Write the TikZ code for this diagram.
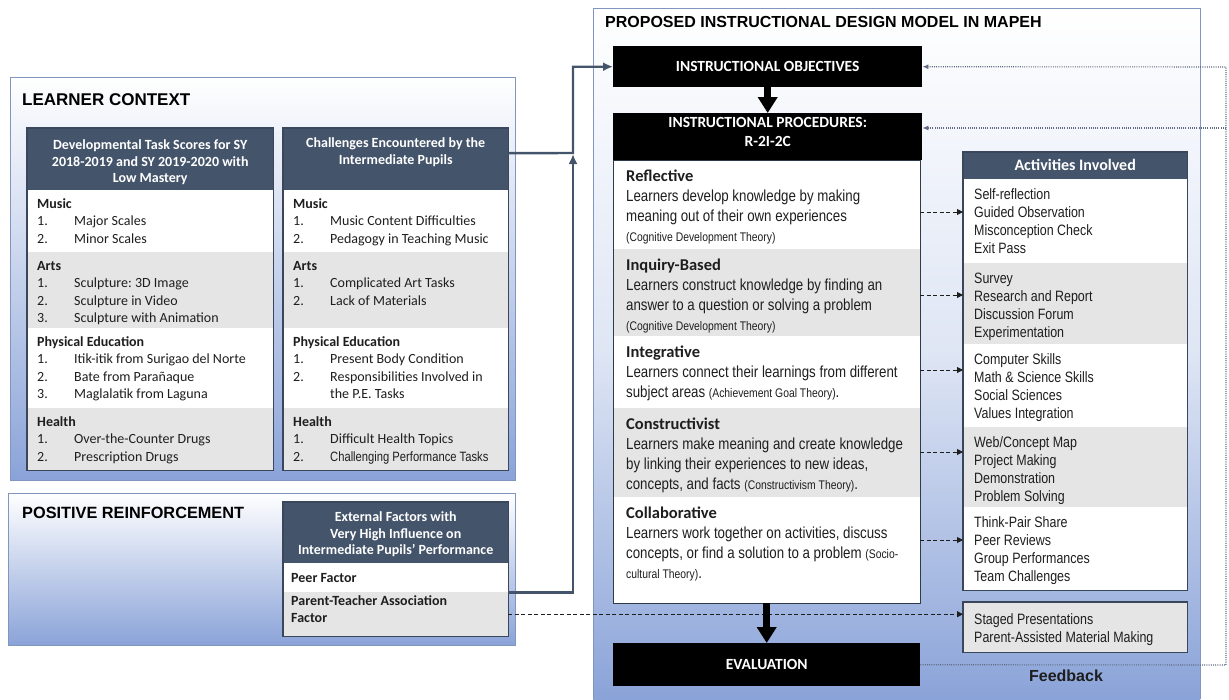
\documentclass[tikz,border=0pt]{standalone}
\usepackage{fontspec}
\setmainfont{Carlito}
\newfontfamily\arialfont{Liberation Sans}
\newfontfamily\narrowfont{Liberation Sans}[FakeStretch=0.83]
\usetikzlibrary{arrows.meta}
\definecolor{slate}{RGB}{68,84,106}
\definecolor{rowgrey}{RGB}{229,229,229}
\definecolor{panelblue}{RGB}{138,163,216}
\definecolor{panelline}{RGB}{128,150,190}
\definecolor{txt}{RGB}{30,30,30}
\definecolor{fbgrey}{RGB}{95,108,130}
\newcommand{\itm}[2]{\makebox[37pt][l]{#1}#2}
\newcommand{\rtitle}[1]{{\rmfamily\bfseries\fontsize{16.5}{20}\selectfont #1}}
\newcommand{\thy}[1]{{\fontsize{12.5}{20}\selectfont #1}}
% name, x, y, width, height, style, xsep, first line height, text
\newcommand{\tabcell}[9]{\node[#6, inner xsep=#7pt] (#1) at (#2,#3) {\parbox[c][#5pt][t]{\dimexpr#4pt-#7pt-#7pt\relax}{\raggedright\rule{0pt}{#8pt}#9}};}
\frenchspacing

\begin{document}
\begin{tikzpicture}[x=1pt,y=-1pt]
\tikzstyle{ptitle}=[anchor=west, inner sep=0pt, font=\arialfont\bfseries\fontsize{16}{18}\selectfont]
\tikzstyle{hdr}=[anchor=north west, inner sep=0pt, fill=slate, text=white, font=\bfseries\fontsize{14}{16.5}\selectfont]
\tikzstyle{blk}=[anchor=north west, inner sep=0pt, fill=black, text=white, font=\bfseries\fontsize{15.5}{19}\selectfont]
\tikzstyle{cell}=[anchor=north west, inner ysep=0pt, text=txt, font=\fontsize{14}{17.5}\selectfont]
\tikzstyle{proc}=[anchor=north west, inner ysep=0pt, text=txt, font=\narrowfont\fontsize{16}{20}\selectfont]
\tikzstyle{act}=[anchor=north west, inner ysep=0pt, text=txt, font=\narrowfont\fontsize{15}{18}\selectfont]
\tikzstyle{tbl}=[draw=slate!85!black, line width=1.4pt]
\tikzstyle{link}=[draw=slate, line width=2.4pt, -{Latex[length=10pt,width=9pt]}]
\tikzstyle{dlink}=[draw=txt, line width=0.9pt, dash pattern=on 4pt off 2.5pt, -{Triangle[length=6pt,width=6pt]}]
\tikzstyle{fb}=[draw=fbgrey, line width=1.1pt, dash pattern=on 1pt off 1.2pt]
\tikzstyle{bigarrow}=[line width=6.5pt, -{Triangle[length=16pt,width=19pt]}]
\useasboundingbox (0,0) rectangle (1229,699);

% panels
\shade[top color=white, bottom color=panelblue] (10,77) rectangle (515,480);
\draw[panelline, line width=0.8pt] (10,77) rectangle (515,480);
\shade[top color=white, bottom color=panelblue] (8,493) rectangle (515,645);
\draw[panelline, line width=0.8pt] (8,493) rectangle (515,645);
\shade[top color=white, bottom color=panelblue, middle color=panelblue!28] (593,8) rectangle (1200,699);
\draw[panelline, line width=0.8pt] (593,699) -- (593,8) -- (1200,8) -- (1200,699);

\node[ptitle, font=\arialfont\bfseries\fontsize{17}{18}\selectfont] (lc) at (22,100) {LEARNER CONTEXT};
\node[ptitle, font=\arialfont\bfseries\fontsize{16.3}{18}\selectfont] (pr) at (22,513) {POSITIVE REINFORCEMENT};
\node[ptitle] (pm) at (605,22) {PROPOSED INSTRUCTIONAL DESIGN MODEL IN MAPEH};

% developmental task scores
\tabcell{t1h}{27}{128}{246}{62}{hdr}{0}{21.5}{\centering Developmental Task Scores for SY\\2018-2019 and SY 2019-2020 with\\Low Mastery}
\tabcell{t1a}{27}{190}{246}{62}{cell, fill=white}{10}{18}{\textbf{Music}\\\itm{1.}{Major Scales}\\\itm{2.}{Minor Scales}}
\tabcell{t1b}{27}{252}{246}{76}{cell, fill=rowgrey}{10}{18}{\textbf{Arts}\\\itm{1.}{Sculpture: 3D Image}\\\itm{2.}{Sculpture in Video}\\\itm{3.}{Sculpture with Animation}}
\tabcell{t1c}{27}{328}{246}{80}{cell, fill=white}{10}{18}{\textbf{Physical Education}\\\itm{1.}{Itik-itik from Surigao del Norte}\\\itm{2.}{Bate from Parañaque}\\\itm{3.}{Maglalatik from Laguna}}
\tabcell{t1d}{27}{408}{246}{62}{cell, fill=rowgrey}{10}{18}{\textbf{Health}\\\itm{1.}{Over-the-Counter Drugs}\\\itm{2.}{Prescription Drugs}}
\draw[tbl] (t1h.north west) rectangle (t1d.south east);

% challenges
\tabcell{t2h}{283}{128}{225}{62}{hdr}{0}{19.5}{\centering Challenges Encountered by the\\Intermediate Pupils}
\tabcell{t2a}{283}{190}{225}{62}{cell, fill=white}{10}{18}{\textbf{Music}\\\itm{1.}{Music Content Difficulties}\\\itm{2.}{Pedagogy in Teaching Music}}
\tabcell{t2b}{283}{252}{225}{76}{cell, fill=rowgrey}{10}{18}{\textbf{Arts}\\\itm{1.}{Complicated Art Tasks}\\\itm{2.}{Lack of Materials}}
\tabcell{t2c}{283}{328}{225}{80}{cell, fill=white}{10}{18}{\textbf{Physical Education}\\\itm{1.}{Present Body Condition}\\\itm{2.}{Responsibilities Involved in}\\\hspace*{37pt}the P.E. Tasks}
\tabcell{t2d}{283}{408}{225}{62}{cell, fill=rowgrey}{10}{18}{\textbf{Health}\\\itm{1.}{Difficult Health Topics}\\\itm{2.}{\mbox{\narrowfont\fontsize{13.5}{17.5}\selectfont Challenging Performance Tasks}}}
\draw[tbl] (t2h.north west) rectangle (t2d.south east);

% external factors
\tabcell{t3h}{283}{502}{225}{61}{hdr}{0}{19.5}{\centering External Factors with\\Very High Influence on\\Intermediate Pupils’ Performance}
\tabcell{peer}{283}{563}{225}{29}{cell, fill=white}{8}{19.5}{\textbf{Peer Factor}}
\tabcell{pta}{283}{592}{225}{44}{cell, fill=rowgrey}{8}{13}{\textbf{Parent-Teacher Association\\Factor}}
\draw[tbl] (t3h.north west) rectangle (pta.south east);

% instructional design model
\node[blk, minimum width=309, minimum height=41] (obj) at (613,46) {INSTRUCTIONAL OBJECTIVES};
\tabcell{proc}{613}{113}{309}{47}{blk}{0}{14}{\centering INSTRUCTIONAL PROCEDURES:\\R-2I-2C}
\tabcell{r1}{613}{160}{307}{89}{proc, fill=white}{13}{21.5}{\rtitle{Reflective}\\Learners develop knowledge by making\\meaning out of their own experiences\\\thy{(Cognitive Development Theory)}}
\tabcell{r2}{613}{249}{307}{87}{proc, fill=rowgrey}{13}{21.5}{\rtitle{Inquiry-Based}\\Learners construct knowledge by finding an\\answer to a question or solving a problem\\\thy{(Cognitive Development Theory)}}
\tabcell{r3}{613}{336}{307}{72}{proc, fill=white}{13}{21.5}{\rtitle{Integrative}\\Learners connect their learnings from different\\subject areas \thy{(Achievement Goal Theory)}.}
\tabcell{r4}{613}{408}{307}{89}{proc, fill=rowgrey}{13}{21.5}{\rtitle{Constructivist}\\\mbox{Learners make meaning and create knowledge}\\by linking their experiences to new ideas,\\concepts, and facts \thy{(Constructivism Theory)}.}
\tabcell{r5}{613}{497}{307}{106}{proc, fill=white}{13}{21.5}{\rtitle{Collaborative}\\Learners work together on activities, discuss\\\mbox{concepts, or find a solution to a problem \thy{(Socio-}}\\\thy{cultural Theory)}.}
\draw[draw=slate!70!black, line width=1pt] (r1.north west) rectangle (r5.south east);
\node[blk, minimum width=307, minimum height=43] (eval) at (613,643) {EVALUATION};

% activities
\tabcell{acth}{963}{152}{224}{27}{hdr, font=\bfseries\fontsize{16}{19}\selectfont}{0}{18.7}{\centering Activities Involved}
\tabcell{a1}{963}{179}{224}{84}{act, fill=white}{11}{20.5}{Self-reflection\\Guided Observation\\Misconception Check\\Exit Pass}
\tabcell{a2}{963}{263}{224}{81}{act, fill=rowgrey}{11}{20.5}{Survey\\Research and Report\\Discussion Forum\\Experimentation}
\tabcell{a3}{963}{344}{224}{83}{act, fill=white}{11}{20.5}{Computer Skills\\Math \& Science Skills\\Social Sciences\\Values Integration}
\tabcell{a4}{963}{427}{224}{80}{act, fill=rowgrey}{11}{20.5}{Web/Concept Map\\Project Making\\Demonstration\\Problem Solving}
\tabcell{a5}{963}{507}{224}{83}{act, fill=white}{11}{20.5}{Think-Pair Share\\Peer Reviews\\Group Performances\\Team Challenges}
\draw[tbl] (acth.north west) rectangle (a5.south east);
\tabcell{stg}{963}{602}{224}{50}{act, fill=rowgrey}{11}{22}{Staged Presentations\\Parent-Assisted Material Making}
\draw[tbl] (stg.north west) rectangle (stg.south east);

% connectors
\coordinate (jn) at (573,153);
\draw[link] ([yshift=6pt]t2h.east) -- (jn) |- (obj.west);
\draw[link, shorten >=1pt] (peer.south east) -| (jn);
\draw[dlink] (r1.east |- 0,212) -- (a1.west |- 0,212);
\draw[dlink] (r2.east |- 0,295) -- (a2.west |- 0,295);
\draw[dlink] (r3.east |- 0,370) -- (a3.west |- 0,370);
\draw[dlink] (r4.east |- 0,452) -- (a4.west |- 0,452);
\draw[dlink] (r5.east |- 0,540) -- (a5.west |- 0,540);
\draw[dlink] (pta.east) -- (stg.west |- pta.east);
\draw[bigarrow] (obj.south) -- (proc.north);
\draw[bigarrow] (r5.south) -- (eval.north);

% feedback
\coordinate (fb) at (1226,665);
\coordinate (fbtop) at (1226,67);
\coordinate (fbmid) at (1226,128);
\draw[fb, -{Latex[length=6pt,width=5pt]}] (eval.east) -- (fb) -- (fbtop) -- (obj.east);
\draw[fb, -{Latex[length=6pt,width=5pt]}] (fbmid) -- (proc.east |- fbmid);
\node[font=\arialfont\bfseries\fontsize{16}{19}\selectfont, text=txt] (fbl) at (1066,676) {Feedback};
\end{tikzpicture}
\end{document}
